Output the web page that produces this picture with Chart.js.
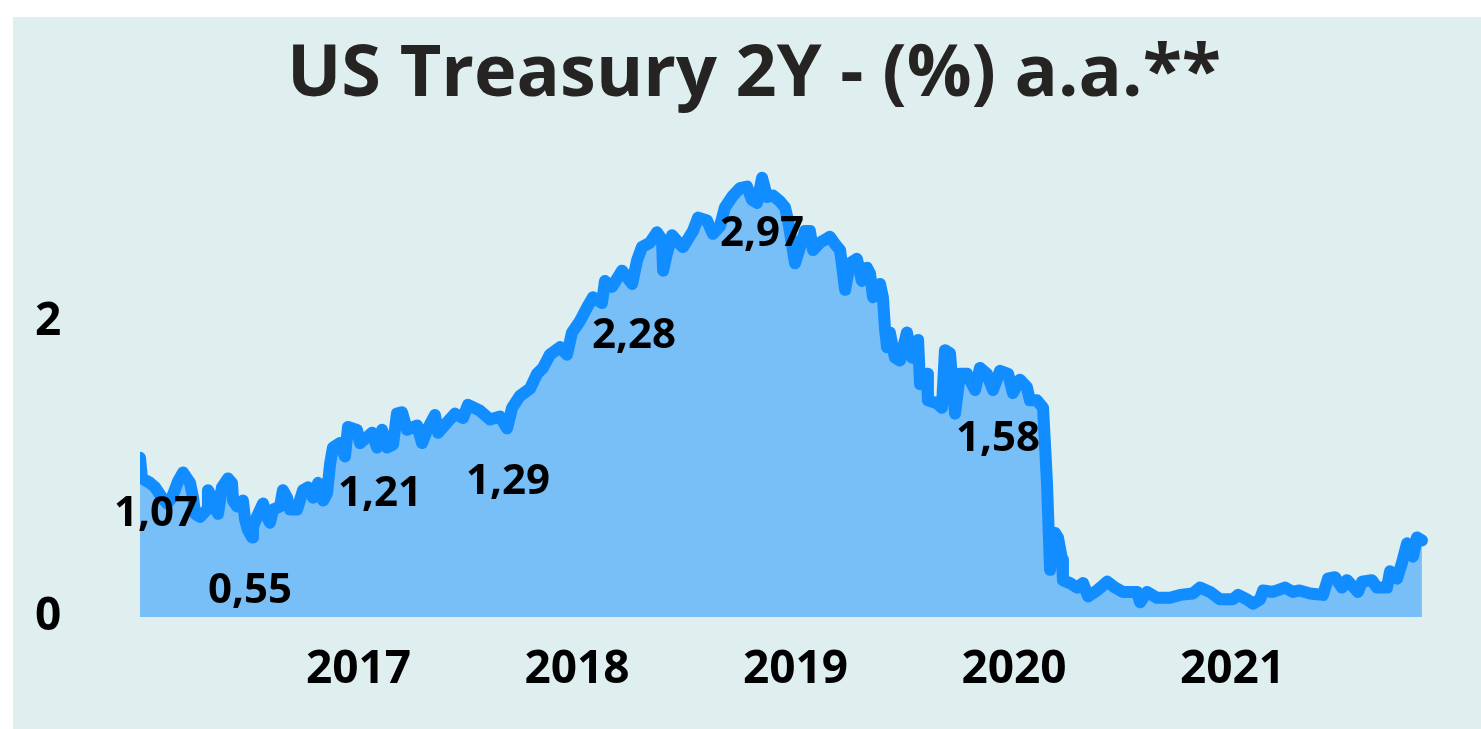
<!DOCTYPE html>
<html>
<head>
<meta charset="utf-8">
<script src="https://cdn.jsdelivr.net/npm/chart.js@4/dist/chart.umd.min.js"></script>
<style>
html,body{margin:0;padding:0;background:#fff;width:1481px;height:729px;overflow:hidden;}
#panel{position:absolute;left:13px;top:17px;width:1468px;height:712px;background:#dfeeef;}
</style>
</head>
<body>
<div id="panel"><canvas id="c"></canvas></div>
<script>
// dates as decimal years, yields in % a.a.
const dates=[2016.000,2016.009,2016.046,2016.069,2016.101,2016.124,2016.146,2016.174,2016.197,2016.229,2016.243,2016.252,2016.275,2016.307,2016.311,2016.330,2016.352,2016.357,2016.375,2016.403,2016.421,2016.426,2016.444,2016.471,2016.481,2016.494,2016.513,2016.517,2016.535,2016.563,2016.581,2016.595,2016.609,2016.641,2016.654,2016.673,2016.686,2016.719,2016.746,2016.769,2016.792,2016.815,2016.838,2016.856,2016.870,2016.883,2016.915,2016.938,2016.952,2016.993,
2017.007,2017.062,2017.085,2017.108,2017.130,2017.158,2017.176,2017.199,2017.222,2017.268,2017.291,2017.314,2017.350,2017.364,2017.405,2017.442,2017.478,2017.501,2017.556,2017.602,2017.648,2017.680,2017.703,2017.739,2017.785,2017.817,2017.844,2017.876,2017.922,2017.954,2017.977,
2018.014,2018.046,2018.073,2018.114,2018.128,2018.160,2018.206,2018.252,2018.275,2018.297,2018.334,2018.366,2018.389,2018.394,2018.412,2018.435,2018.471,2018.485,2018.531,2018.554,2018.595,2018.622,2018.654,2018.677,2018.714,2018.746,2018.778,2018.801,2018.824,2018.847,2018.870,2018.897,2018.929,2018.952,2018.966,2018.998,
2019.021,2019.043,2019.066,2019.080,2019.112,2019.158,2019.181,2019.204,2019.227,2019.249,2019.281,2019.304,2019.327,2019.341,2019.355,2019.387,2019.400,2019.410,2019.419,2019.432,2019.455,2019.478,2019.510,2019.533,2019.561,2019.570,2019.602,2019.606,2019.648,2019.670,2019.684,2019.707,2019.730,2019.753,2019.785,2019.822,2019.844,2019.876,2019.904,2019.936,2019.973,2019.995,
2020.027,2020.059,2020.073,2020.105,2020.133,2020.151,2020.156,2020.165,2020.188,2020.201,2020.220,2020.224,2020.256,2020.288,2020.316,2020.339,2020.380,2020.426,2020.462,2020.499,2020.563,2020.577,2020.609,2020.654,2020.714,2020.760,2020.819,2020.851,2020.897,2020.943,
2021.002,2021.025,2021.066,2021.094,2021.126,2021.140,2021.185,2021.240,2021.277,2021.307,2021.355,2021.414,2021.437,2021.469,2021.501,2021.524,2021.574,2021.593,2021.638,2021.661,2021.707,2021.721,2021.753,2021.776,2021.799,2021.826,2021.844,2021.867];
const yields=[1.08,0.94,0.91,0.88,0.81,0.77,0.81,0.92,0.98,0.91,0.81,0.70,0.68,0.73,0.86,0.81,0.73,0.70,0.88,0.94,0.91,0.79,0.75,0.79,0.66,0.59,0.54,0.61,0.68,0.77,0.68,0.64,0.73,0.75,0.86,0.81,0.73,0.73,0.86,0.88,0.81,0.91,0.79,0.84,1.04,1.15,1.18,1.09,1.29,1.27,
1.18,1.25,1.15,1.27,1.15,1.17,1.38,1.39,1.27,1.30,1.18,1.27,1.37,1.25,1.32,1.38,1.35,1.44,1.40,1.34,1.36,1.28,1.42,1.50,1.55,1.65,1.69,1.78,1.83,1.78,1.93,
2.01,2.10,2.17,2.13,2.28,2.24,2.35,2.26,2.42,2.51,2.54,2.61,2.56,2.35,2.47,2.59,2.53,2.51,2.62,2.71,2.69,2.60,2.65,2.78,2.86,2.91,2.92,2.83,2.81,2.98,2.85,2.86,2.82,2.78,2.69,2.40,
2.51,2.62,2.62,2.49,2.54,2.58,2.53,2.49,2.22,2.40,2.43,2.28,2.37,2.33,2.17,2.26,2.17,1.95,1.83,1.93,1.76,1.74,1.93,1.76,1.88,1.58,1.65,1.47,1.45,1.42,1.81,1.79,1.38,1.65,1.65,1.54,1.69,1.65,1.54,1.67,1.65,1.52,
1.61,1.56,1.47,1.47,1.42,0.91,0.70,0.32,0.57,0.54,0.39,0.25,0.23,0.20,0.23,0.14,0.18,0.24,0.20,0.17,0.17,0.10,0.17,0.13,0.13,0.15,0.16,0.20,0.17,0.12,
0.12,0.15,0.12,0.09,0.12,0.18,0.17,0.20,0.17,0.18,0.16,0.15,0.26,0.27,0.20,0.25,0.17,0.24,0.25,0.20,0.20,0.31,0.26,0.37,0.50,0.41,0.54,0.52];

// highlighted values shown as data labels
const labelDates=[2016.073,2016.503,2017.098,2017.684,2018.261,2018.847,2019.927];
const labelValues=[1.07,0.55,1.21,1.29,2.28,2.97,1.58];

const yearTicks=[2017,2018,2019,2020,2021];
const yTicks=[0,2];

const FONT='"Open Sans","Noto Sans",sans-serif';

const dataLabels={
  id:'dataLabels',
  afterDatasetsDraw(chart){
    const {ctx,scales:{x,y}}=chart;
    ctx.save();
    ctx.font='bold 42px '+FONT;
    ctx.fillStyle='#000';
    ctx.textAlign='center';
    ctx.textBaseline='middle';
    labelDates.forEach((d,i)=>{
      const px=x.getPixelForValue(d);
      const py=y.getPixelForValue(labelValues[i])+55;
      ctx.fillText(labelValues[i].toFixed(2).replace('.',','),px,py);
    });
    ctx.restore();
  }
};

const ctx=document.getElementById('c');
new Chart(ctx,{
  type:'line',
  data:{datasets:[{
    data:dates.map((d,i)=>({x:d,y:yields[i]})),
    borderColor:'#118DFF',
    backgroundColor:'rgba(17,141,255,0.5)',
    borderWidth:12,
    borderJoinStyle:'round',
    borderCapStyle:'round',
    fill:'origin',
    pointRadius:0,
    tension:0
  }]},
  options:{
    responsive:true,
    maintainAspectRatio:false,
    animation:false,
    layout:{padding:{left:22,right:8,top:4,bottom:0}},
    plugins:{
      legend:{display:false},
      tooltip:{enabled:false},
      title:{display:true,text:'US Treasury 2Y - (%) a.a.**',color:'#252423',
        font:{family:FONT,size:72,weight:'bold'},padding:{top:11,bottom:27}}
    },
    scales:{
      x:{type:'linear',min:2016,max:2022.1007,
        grid:{display:false},border:{display:false},
        afterBuildTicks:a=>{a.ticks=yearTicks.map(v=>({value:v}));},
        ticks:{color:'#000',font:{family:FONT,size:46,weight:'bold'},padding:17,maxRotation:0,autoSkip:false,
          callback:v=>String(v)},
        afterFit:s=>{s.height=112;}
      },
      y:{min:0,max:3.2,
        grid:{display:false},border:{display:false},
        afterBuildTicks:a=>{a.ticks=yTicks.map(v=>({value:v}));},
        ticks:{color:'#000',font:{family:FONT,size:46,weight:'bold'},crossAlign:'far',
          callback:v=>String(v)},
        afterFit:s=>{s.width=105;}
      }
    }
  },
  plugins:[dataLabels]
});
</script>
</body>
</html>
